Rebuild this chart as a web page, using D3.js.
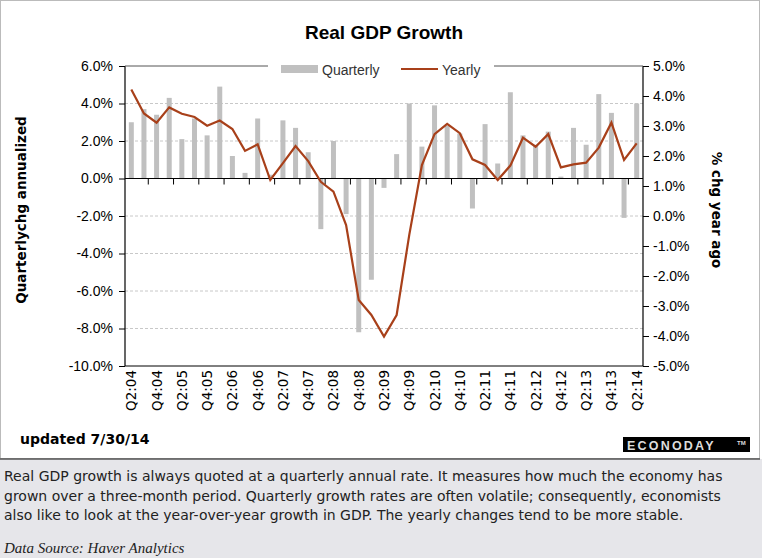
<!DOCTYPE html>
<html>
<head>
<meta charset="utf-8">
<script src="https://cdn.jsdelivr.net/npm/d3@7"></script>
<style>
body { margin: 0; background: #fff; }
svg { display: block; font-family: Arial, "Liberation Sans", sans-serif; }
</style>
</head>
<body>
<svg id="chart" width="762" height="558"></svg>
<script>
var quarters = [];
(function () {
    for (var i = 0; i < 41; i++) {
        var q = (1 + i) % 4 + 1, y = 4 + Math.floor((i + 1) / 4);
        quarters.push("Q" + q + ":" + (y < 10 ? "0" + y : y));
    }
})();
var quarterly = [3.0, 3.7, 3.4, 4.3, 2.1, 3.2, 2.3, 4.9, 1.2, 0.3, 3.2, 0.2, 3.1, 2.7, 1.4, -2.7,
    2.0, -1.9, -8.2, -5.4, -0.5, 1.3, 4.0, 1.7, 3.9, 2.8, 2.4, -1.6, 2.9, 0.8, 4.6, 2.3,
    1.8, 2.5, 0.1, 2.7, 1.8, 4.5, 3.5, -2.1, 4.0];
var yearly = [4.22, 3.42, 3.11, 3.62, 3.41, 3.30, 3.01, 3.18, 2.9, 2.17, 2.39, 1.2, 1.76, 2.33, 1.83, 1.14,
    0.81, -0.3, -2.8, -3.3, -4.02, -3.3, -0.63, 1.7, 2.73, 3.07, 2.76, 1.89, 1.7, 1.2, 1.68, 2.61,
    2.31, 2.73, 1.62, 1.72, 1.78, 2.28, 3.11, 1.87, 2.42];
var leftTicks = [6, 4, 2, 0, -2, -4, -6, -8, -10];
var rightTicks = [5, 4, 3, 2, 1, 0, -1, -2, -3, -4, -5];
var notes = [
    "Real GDP growth is always quoted at a quarterly annual rate. It measures how much the economy has",
    "grown over a three-month period. Quarterly growth rates are often volatile; consequently, economists",
    "also like to look at the year-over-year growth in GDP. The yearly changes tend to be more stable."
];

var svg = d3.select("#chart");
var L = 125, R = 643, T = 66, B = 366;
var DV = "DejaVu Sans, Verdana, sans-serif";

// outer frame and note area
svg.append("rect").attr("x", 0.5).attr("y", 0.5).attr("width", 759).attr("height", 458)
    .attr("fill", "#fff").attr("stroke", "#bbb");
svg.append("rect").attr("x", 0).attr("y", 459).attr("width", 762).attr("height", 99).attr("fill", "#e6e6ea");
svg.append("line").attr("x1", 0).attr("x2", 760).attr("y1", 459).attr("y2", 459).attr("stroke", "#555").attr("stroke-width", 1.5);

var x = d3.scaleBand().domain(quarters).range([L, R]).paddingInner(0);
var yL = d3.scaleLinear().domain([-10, 6]).range([B, T]);
var yR = d3.scaleLinear().domain([-5, 5]).range([B, T]);

// grid
svg.append("g").selectAll("line").data(leftTicks.filter(function (d) { return d != 0 && d != 6 && d != -10; }))
    .join("line").attr("x1", L).attr("x2", R).attr("y1", yL).attr("y2", yL)
    .attr("stroke", "#c8c8c8").attr("stroke-dasharray", "3,2");

// bars
svg.append("g").selectAll("rect").data(quarterly).join("rect")
    .attr("x", function (d, i) { return x(quarters[i]) + x.bandwidth() / 2 - 2.5; })
    .attr("width", 5)
    .attr("y", function (d) { return yL(Math.max(0, d)); })
    .attr("height", function (d) { return Math.abs(yL(d) - yL(0)); })
    .attr("fill", "#c0c0c0");

// zero line + ticks
svg.append("line").attr("x1", L).attr("x2", R).attr("y1", yL(0)).attr("y2", yL(0)).attr("stroke", "#000").attr("stroke-width", 1.2);
svg.append("g").selectAll("line").data(quarters.filter(function (d, i) { return i > 0 && i % 2 == 0; }))
    .join("line").attr("x1", function (d) { return x(d) - 2; }).attr("x2", function (d) { return x(d) - 2; })
    .attr("y1", yL(0)).attr("y2", yL(0) + 6).attr("stroke", "#000");

// frame
svg.append("line").attr("x1", L).attr("x2", L).attr("y1", T).attr("y2", B).attr("stroke", "#000").attr("stroke-width", 1.2);
svg.append("line").attr("x1", R).attr("x2", R).attr("y1", T).attr("y2", B).attr("stroke", "#000").attr("stroke-width", 1.2);
svg.append("line").attr("x1", L).attr("x2", R).attr("y1", B).attr("y2", B).attr("stroke", "#000");
svg.append("line").attr("x1", L).attr("x2", 268).attr("y1", T).attr("y2", T).attr("stroke", "#555");
svg.append("line").attr("x1", 494).attr("x2", R).attr("y1", T).attr("y2", T).attr("stroke", "#555");

// yearly line
var line = d3.line().x(function (d, i) { return x(quarters[i]) + x.bandwidth() / 2; }).y(function (d) { return yR(d); });
svg.append("path").datum(yearly).attr("d", line).attr("fill", "none")
    .attr("stroke", "#a8401a").attr("stroke-width", 2.2);

// axes
var axL = svg.append("g").attr("transform", "translate(" + L + ",0)")
    .call(d3.axisLeft(yL).tickValues(leftTicks).tickSize(6).tickFormat(function (d) { return d.toFixed(1) + "%"; }));
var axR = svg.append("g").attr("transform", "translate(" + R + ",0)")
    .call(d3.axisRight(yR).tickValues(rightTicks).tickSize(6).tickFormat(function (d) { return d.toFixed(1) + "%"; }));
[axL, axR].forEach(function (a) {
    a.select(".domain").remove();
    a.selectAll("text").attr("font-size", 14).attr("fill", "#000").attr("font-family", "Arial, Liberation Sans, sans-serif");
    a.selectAll("line").attr("stroke", "#000");
});
axL.selectAll("text").attr("x", -12);
axR.selectAll("text").attr("x", 10);

// x labels
svg.append("g").selectAll("text").data(quarters.filter(function (d, i) { return i % 2 == 0; }))
    .join("text")
    .attr("transform", function (d) { return "translate(" + (x(d) + x.bandwidth() / 2 + 5) + "," + 370 + ") rotate(-90)"; })
    .attr("text-anchor", "end").attr("font-size", 13.5).attr("font-family", DV).text(function (d) { return d; });

// titles
svg.append("text").attr("x", 384).attr("y", 39).attr("text-anchor", "middle").attr("font-size", 19).attr("font-weight", "bold").text("Real GDP Growth");
svg.append("text").attr("transform", "translate(26,210) rotate(-90)").attr("text-anchor", "middle")
    .attr("font-size", 13.5).attr("font-family", DV).attr("font-weight", "bold").text("Quarterlychg annualized");
svg.append("text").attr("transform", "translate(712,210) rotate(90)").attr("text-anchor", "middle")
    .attr("font-size", 13.5).attr("font-family", DV).attr("font-weight", "bold").text("% chg year ago");

// legend
svg.append("rect").attr("x", 281).attr("y", 65).attr("width", 37).attr("height", 8).attr("fill", "#c0c0c0");
svg.append("text").attr("x", 322).attr("y", 75).attr("font-size", 14).attr("fill", "#333").text("Quarterly");
svg.append("line").attr("x1", 401).attr("x2", 438).attr("y1", 69).attr("y2", 69).attr("stroke", "#a8401a").attr("stroke-width", 2.2);
svg.append("text").attr("x", 442).attr("y", 75).attr("font-size", 14).attr("fill", "#333").text("Yearly");

svg.append("text").attr("x", 20).attr("y", 444).attr("font-size", 14).attr("font-family", DV).attr("font-weight", "bold").text("updated 7/30/14");

// logo
svg.append("rect").attr("x", 623).attr("y", 437).attr("width", 127).attr("height", 15).attr("fill", "#000");
svg.append("text").attr("x", 627).attr("y", 449.5).attr("font-size", 12.5).attr("font-weight", "bold")
    .attr("fill", "#ddd").attr("letter-spacing", 2.2).text("ECONODAY");
svg.append("text").attr("x", 737).attr("y", 445).attr("font-size", 6).attr("font-weight", "bold").attr("fill", "#ddd").text("TM");

// notes
svg.append("g").selectAll("text").data(notes).join("text")
    .attr("x", 4).attr("y", function (d, i) { return 481 + i * 19.5; })
    .attr("font-size", 14).attr("font-family", DV).attr("fill", "#222").text(function (d) { return d; });
svg.append("text").attr("x", 4).attr("y", 553).attr("font-size", 15).attr("font-style", "italic")
    .attr("font-family", "Liberation Serif, serif").attr("fill", "#222").text("Data Source: Haver Analytics");
</script>
</body>
</html>
